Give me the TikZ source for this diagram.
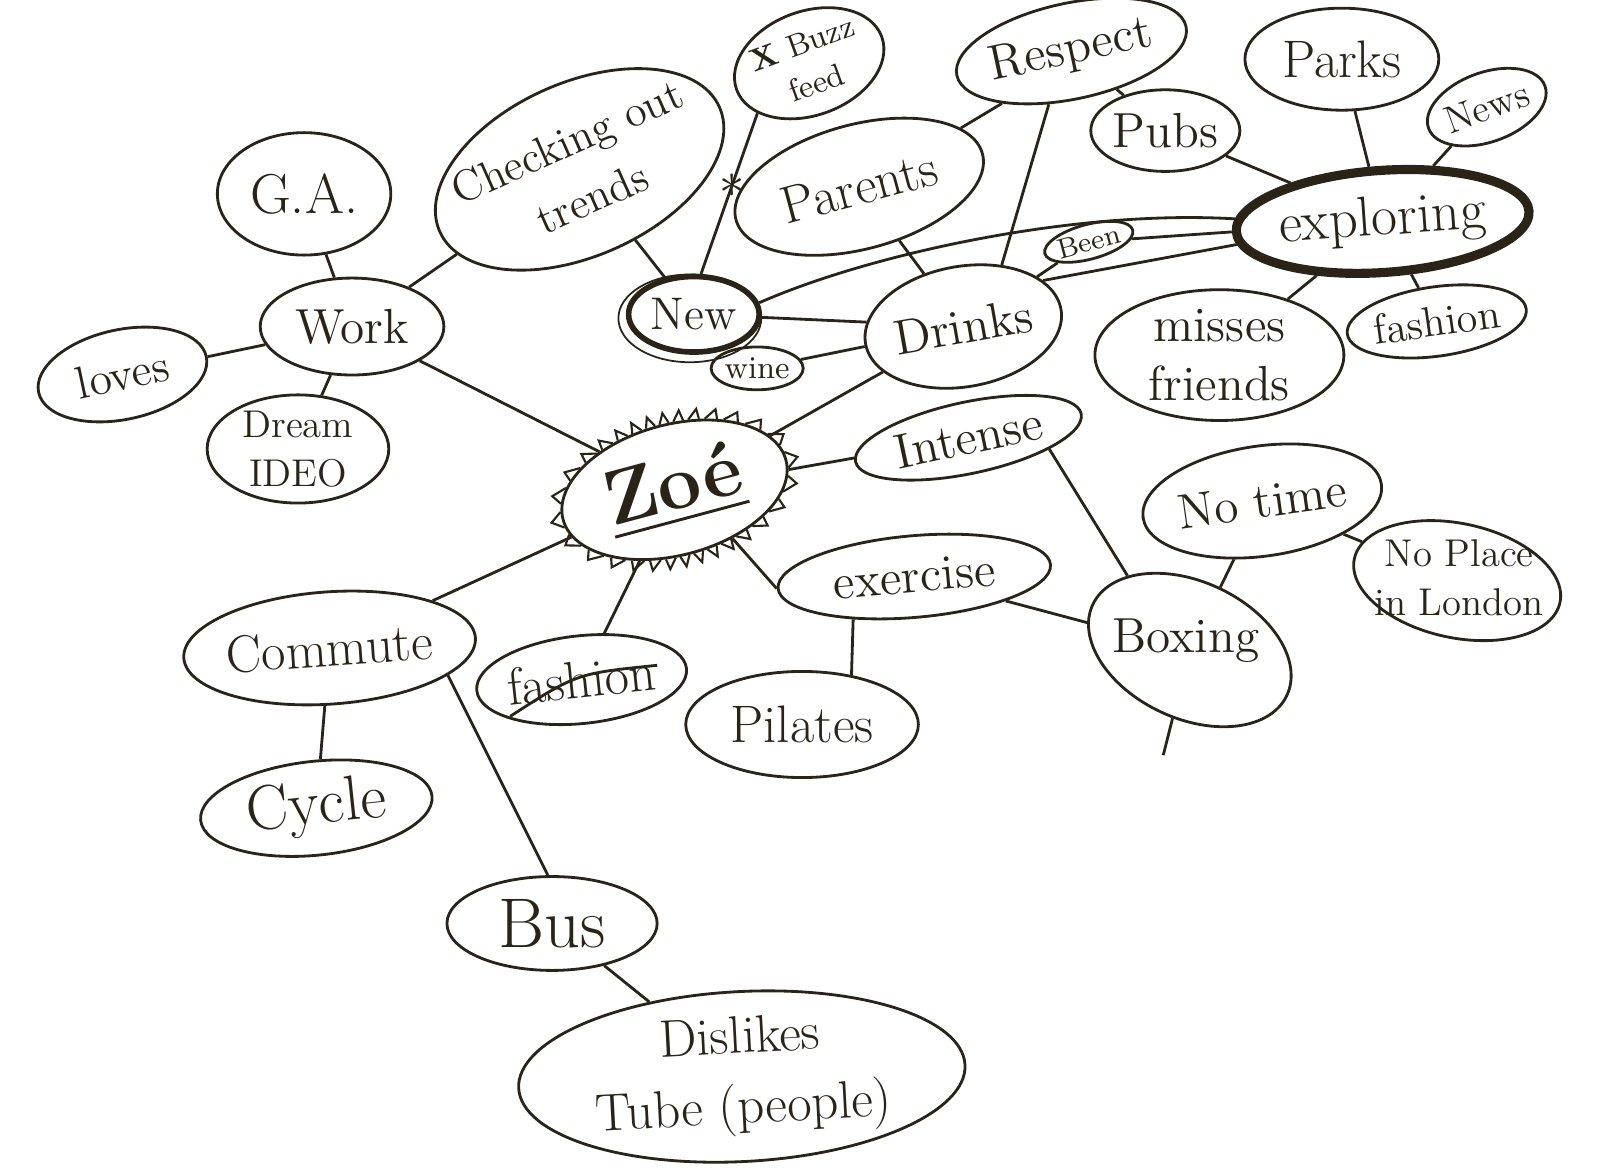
\documentclass[tikz,border=0pt]{standalone}
\usepackage{amsmath}
\usepackage{tikz}
\usetikzlibrary{calc}
\usetikzlibrary{shapes.geometric}
\definecolor{ink}{RGB}{42,36,24}

\begin{document}
\begin{tikzpicture}[x=0.0102cm, y=-0.0102cm,
    bub/.style 2 args={draw=ink, ellipse, line width=0.8pt, inner sep=0pt, text=ink, align=center,
        minimum width=#1*0.0102cm, minimum height=#2*0.0102cm},
    fs/.style={font=\fontsize{#1}{#1}\selectfont},
    ln/.style={draw=ink, line width=0.8pt}]

        \useasboundingbox (0,0) rectangle (1568,1152);

        % Work and its ideas
        \node[bub={170}{120}, fs=16] (ga) at (298,190) {G.A.};
        \node[bub={180}{95}, fs=14] (work) at (345,320) {Work};
        \node[bub={168}{88}, fs=13, rotate=12] (loves) at (120,367) {loves};
        \node[bub={178}{98}, fs=11] (dream) at (292,440) {Dream\\[3pt]IDEO};
        \node[bub={300}{170}, fs=12.5, rotate=24, inner xsep=-8pt, inner ysep=-2pt] (trends) at (568,166) {Checking out\\[5pt]trends};

        % Top row
        \node[bub={146}{102}, fs=9, rotate=20] (buzz) at (793,62) {\textbf{X} Buzz\\[3pt]feed};
        \node[bub={196}{94}, fs=14, rotate=12] (respect) at (1050,50) {Respect};
        \node[bub={250}{122}, fs=15, rotate=15] (parents) at (842,183) {Parents};
        \node[bub={140}{80}, fs=14] (pubs) at (1142,128) {Pubs};
        \node[bub={190}{100}, fs=15] (parks) at (1315,58) {Parks};
        \node[bub={120}{68}, fs=11, rotate=20] (news) at (1457,105) {News};
        \node[bub={244}{100}, fs=16, rotate=4, line width=2.6pt] (explore) at (1355,217) {exploring};
        \node[bub={164}{68}, fs=12, rotate=8] (fashr) at (1408,315) {fashion};
        \node[bub={244}{116}, fs=14] (misses) at (1195,348) {misses\\[3pt]friends};
        \node[bub={76}{34}, fs=8, rotate=15] (been) at (1067,237) {Been};
        \node[bub={128}{74}, fs=13, line width=1.6pt] (new) at (680,308) {New};
        \node[bub={194}{118}, fs=14, rotate=10] (drinks) at (944,320) {Drinks};
        \node[bub={78}{42}, fs=9] (wine) at (742,361) {wine};

        % Centre
        \node[bub={226}{128}, rotate=15, font=\fontsize{22}{22}\selectfont\bfseries] (zoe) at (661,480) {\underline{Zoé}};

        % Right and bottom
        \node[bub={226}{70}, fs=14, rotate=12] (intense) at (949,429) {Intense};
        \node[bub={268}{80}, fs=14, rotate=5] (exercise) at (896,565) {exercise};
        \node[bub={228}{104}, fs=15] (pilates) at (786,710) {Pilates};
        \node[bub={204}{108}, fs=14, rotate=8] (notime) at (1237,491) {No time};
        \node[bub={206}{112}, rotate=-12] (noplace) at (1428,569) {};
        \node[fs=11, text=ink, align=center] (noplacetxt) at (1430,566) {No Place\\[3pt]in London};
        \node[bub={210}{134}, rotate=-25] (boxing) at (1166,637) {};
        \node[fs=14, text=ink] (boxingtxt) at (1162,628) {Boxing};
        \coordinate (boxend) at (1140,740);
        \node[bub={280}{110}, fs=15, rotate=4] (commute) at (323,635) {Commute};
        \node[bub={190}{86}, fs=15, rotate=6] (fashz) at (570,666) {fashion};
        \node[bub={228}{92}, fs=18, rotate=6] (cycle) at (310,792) {Cycle};
        \node[bub={206}{92}, fs=20] (bus) at (541,905) {Bus};
        \node[bub={438}{158}, fs=15, rotate=3] (dislikes) at (727,1055) {Dislikes\\[5pt]Tube (people)};

        % Spikes round Zoe
        \foreach \a in {0,12,...,348}{
            \pgfmathtruncatemacro\b{\a-4}
            \pgfmathtruncatemacro\c{\a+4}
            \draw[ink, line width=0.6pt] (zoe.\b) -- ($(zoe.\a)!-3pt!(zoe.center)$) -- (zoe.\c);
        }

        % Second ring round New, strike through fashion
        \draw[ink, line width=0.5pt] ($(new.center)+(-4,4)$) ellipse [x radius=70, y radius=43];
        \draw[ln] ($(fashz.center)+(-70,36)$) .. controls ($(fashz.center)+(-5,-6)$) .. ($(fashz.center)+(74,-14)$);

        % Connectors
        \draw[ln] (ga) -- (work);
        \draw[ln] (work) -- (loves);
        \draw[ln] (work) -- (dream);
        \draw[ln] (work) -- (trends);
        \draw[ln] (work) -- (zoe);
        \draw[ln] (trends) -- (new);
        \draw[ln] (buzz.204) -- node[pos=0.45, fs=14, text=ink, inner sep=0pt] (star) {$\ast$} (new.80);
        \draw[ln] (parents.15) -- (respect.205);
        \draw[ln] (respect.-125) -- (drinks.48);
        \draw[ln] (respect) -- (pubs);
        \draw[ln] (parents) -- (drinks);
        \draw[ln] (drinks) -- (new);
        \draw[ln] (wine) -- (drinks);
        \draw[ln] (new.10) .. controls (850,250) and (1050,205) .. (explore.175);
        \draw[ln] (drinks.20) -- (explore.185);
        \draw[ln] (been) -- (explore);
        \draw[ln] (been) -- (drinks);
        \draw[ln] (pubs) -- (explore);
        \draw[ln] (parks) -- (explore);
        \draw[ln] (news) -- (explore);
        \draw[ln] (explore) -- (misses);
        \draw[ln] (explore) -- (fashr);
        \draw[ln] (drinks) -- (zoe);
        \draw[ln] (zoe) -- (intense);
        \draw[ln] (intense.-20) -- (boxing.155);
        \draw[ln] (zoe.-55) -- (exercise.180);
        \draw[ln] (exercise) -- (boxing);
        \draw[ln] (exercise.210) -- (pilates.45);
        \draw[ln] (notime) -- (boxing);
        \draw[ln] (notime) -- (noplace);
        \draw[ln] (boxing) -- (boxend);
        \draw[ln] (zoe) -- (commute);
        \draw[ln] (zoe) -- (fashz);
        \draw[ln] (commute) -- (cycle);
        \draw[ln] (commute.-17) -- (bus.95);
        \draw[ln] (bus) -- (dislikes);

\end{tikzpicture}
\end{document}
